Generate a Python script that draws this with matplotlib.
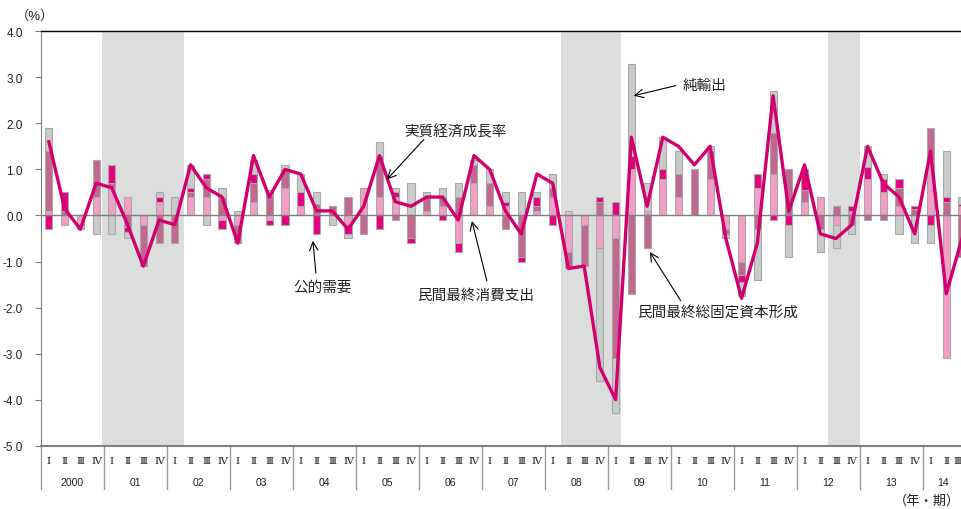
import numpy as np
import matplotlib
matplotlib.use("Agg")
import matplotlib.pyplot as plt

plt.rcParams['font.family'] = ['Liberation Sans', 'Noto Sans CJK JP']

# quarterly contributions to real GDP growth, 2000 I .. 2014 III (% points)
consumption = [0.1, -0.2, -0.3, 0.4, 0.6, 0.4, -0.2, 0.3, 0.0, 0.4,
               0.4, -0.1, -0.2, 0.3, -0.1, 0.6, 0.2, 0.0, 0.0, -0.2,
               0.6, 0.4, 0.4, 0.0, 0.1, 0.2, -0.6, 0.7, 0.2, 0.2,
               0.0, 0.1, 0.4, -0.8, -0.2, -0.7, -0.5, 1.0, 0.1, 0.8,
               0.4, 0.0, 0.8, -0.3, -1.0, 0.6, 0.9, 0.0, 0.3, 0.4,
               -0.2, 0.1, 0.8, 0.5, 0.2, 0.0, 1.2, -3.1, 0.2]
investment = [1.3, 0.1, 0.0, 0.8, 0.1, -0.25, -0.9, -0.6, -0.6, 0.1,
              0.4, 0.4, -0.4, 0.4, 0.45, 0.4, 0.0, 0.25, 0.2, 0.4,
              -0.4, 0.9, -0.1, -0.5, 0.3, 0.2, 0.4, 0.4, 0.5, -0.3,
              -0.9, 0.1, 0.2, -0.35, -0.9, 0.3, -2.6, -1.7, -0.7, 0.0,
              0.5, 1.0, 0.6, -0.1, -0.3, -0.3, 0.9, 1.0, 0.25, -0.3,
              0.2, -0.2, -0.1, -0.1, 0.4, 0.13, 0.7, 0.3, -0.9]
public = [-0.3, 0.4, 0.0, 0.0, 0.4, -0.1, 0.0, 0.1, 0.0, 0.1,
          0.1, -0.2, 0.0, 0.2, -0.1, -0.2, 0.3, -0.4, 0.0, -0.2,
          0.0, -0.3, 0.1, -0.1, 0.0, -0.1, -0.2, 0.0, 0.0, 0.1,
          -0.1, 0.2, -0.2, 0.0, 0.0, 0.1, 0.3, 0.3, 0.0, 0.2,
          0.0, 0.0, 0.0, 0.0, -0.15, 0.3, -0.1, -0.2, 0.45, 0.0,
          0.0, 0.1, 0.25, 0.3, 0.2, 0.07, -0.2, 0.1, 0.05]
net_exports = [0.5, 0.0, 0.0, -0.4, -0.4, -0.15, 0.0, 0.1, 0.4, 0.5,
               -0.2, 0.2, 0.1, 0.3, 0.1, 0.1, 0.4, 0.25, -0.2, -0.1,
               0.0, 0.3, 0.1, 0.7, 0.1, 0.2, 0.3, 0.1, 0.3, 0.2,
               0.5, 0.1, 0.3, 0.1, 0.0, -2.9, -1.2, 2.0, 0.6, 0.7,
               0.5, 0.0, 0.1, -0.1, -0.3, -1.1, 0.9, -0.7, 0.0, -0.5,
               -0.5, -0.2, 0.45, 0.1, -0.4, -0.6, -0.4, 1.0, 0.15]
growth = [1.6, 0.15, -0.3, 0.7, 0.6, -0.2, -1.1, -0.1, -0.2, 1.1,
          0.6, 0.4, -0.6, 1.3, 0.4, 1.0, 0.9, 0.1, 0.1, -0.3,
          0.2, 1.3, 0.3, 0.2, 0.4, 0.4, -0.1, 1.3, 1.0, 0.1,
          -0.4, 0.9, 0.7, -1.15, -1.1, -3.3, -4.0, 1.7, 0.2, 1.7,
          1.5, 1.1, 1.5, -0.5, -1.8, -0.6, 2.6, 0.1, 1.1, -0.4,
          -0.5, -0.2, 1.5, 0.7, 0.4, -0.4, 1.4, -1.7, -0.5]

years = ['2000', '01', '02', '03', '04', '05', '06', '07', '08', '09',
         '10', '11', '12', '13', '14']
quarter_names = ['Ⅰ', 'Ⅱ', 'Ⅲ', 'Ⅳ']
# recession periods, in quarter positions
recessions = [(3.37, 8.58), (32.5, 36.37), (49.5, 51.5)]

x = np.arange(len(growth))

fig = plt.figure(figsize=(9.62, 5.10), dpi=100)
ax = fig.add_axes([0.0426, 0.1241, 0.9574, 0.8126])

for a, b in recessions:
    ax.axvspan(a, b, color='#dcdddd', lw=0, zorder=0)

# stack positives upward and negatives downward in the same order
components = [(consumption, '#f29fc5'), (investment, '#c2678f'),
              (public, '#e4007f'), (net_exports, '#c9caca')]
pos_base = np.zeros(len(x))
neg_base = np.zeros(len(x))
for vals, col in components:
    v = np.array(vals, dtype=float)
    bottom = np.where(v >= 0, pos_base, neg_base)
    ax.bar(x, v, width=0.45, bottom=bottom, color=col,
           edgecolor='#a8a8a8', linewidth=0.8, zorder=2)
    pos_base += np.clip(v, 0, None)
    neg_base += np.clip(v, None, 0)

ax.axhline(0, color='#808080', lw=1.0, zorder=2.5)
ax.plot(x, growth, color='#d2006e', lw=2.4, zorder=3)

ax.set_xlim(-0.5, 58.0)
ax.set_ylim(-5, 4)
yt = np.arange(-5, 4.01, 1.0)
ax.set_yticks(yt)
ax.set_yticklabels(['%.1f' % v for v in yt], fontsize=8.5, color='#222222')
ax.tick_params(axis='y', direction='out', length=4, color='#808080', pad=9)
ax.set_xticks([])

ax.spines['right'].set_visible(False)
ax.spines['top'].set_color('black')
ax.spines['top'].set_linewidth(1.0)
ax.spines['left'].set_color('#808080')
ax.spines['bottom'].set_color('#808080')
ax.spines['bottom'].set_linewidth(1.5)

# quarter / year axis below the plot
trans = ax.get_xaxis_transform()
for k in range(len(years)):
    ax.plot([4 * k - 0.5, 4 * k - 0.5], [0, -0.105], transform=trans,
            color='#9a9a9a', lw=1.0, clip_on=False)
for i in x:
    # last quarter sits on the right edge, keep it inside
    xi, ha = (i, 'center') if i < len(x) - 1 else (i - 0.05, 'right')
    ax.text(xi, -0.035, quarter_names[i % 4], transform=trans, ha=ha,
            va='center', fontsize=7.5, family=['DejaVu Serif', 'Noto Sans CJK JP'],
            color='#222222', clip_on=False)
for k, yr in enumerate(years):
    xc = 4 * k + 1.5 if k < len(years) - 1 else 56.8
    ax.text(xc, -0.088, yr, transform=trans, ha='center', va='center',
            fontsize=7.5, color='#222222', clip_on=False)

fig.text(0.036, 1 - 16 / 510, '（%）', ha='center', va='center', fontsize=9.5,
         color='#222222')
fig.text(0.9636, 1 - 501 / 510, '（年・期）', ha='center', va='center', fontsize=9.5,
         color='#222222')

# labels with pointer arrows
arrow = dict(arrowstyle='->,head_length=0.6,head_width=0.3', color='black',
             lw=0.8, shrinkA=0, shrinkB=0)
labels = [
    ('純輸出', (40.26, 2.84), 'left', (39.82, 2.82), (37.15, 2.60)),
    ('実質経済成長率', (25.82, 1.82), 'center', (23.82, 1.65), (21.47, 0.78)),
    ('公的需要', (17.37, -1.55), 'center', (16.96, -1.25), (16.77, -0.55)),
    ('民間最終消費支出', (27.12, -1.72), 'center', (27.82, -1.42), (26.87, -0.12)),
    ('民間最終総固定資本形成', (42.48, -2.09), 'center', (40.13, -1.85), (38.17, -0.79)),
]
for txt, pos, ha, tail, head in labels:
    ax.text(pos[0], pos[1], txt, ha=ha, va='center', fontsize=10.5,
            color='#222222', zorder=5)
    ax.annotate('', xy=head, xytext=tail, arrowprops=arrow, zorder=5)

fig.savefig('out.png', dpi=100)
